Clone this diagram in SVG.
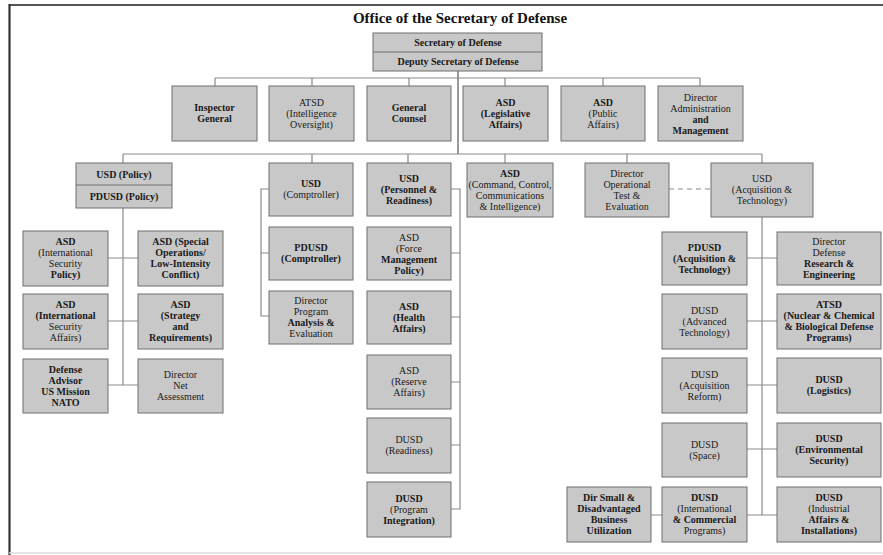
<svg xmlns="http://www.w3.org/2000/svg" width="883" height="555" viewBox="0 0 883 555">
<style>
rect.box{fill:#c8c8c8;stroke:#6e6e6e;stroke-width:1}
text{font-family:"Liberation Serif","Times New Roman",serif;font-size:10px;fill:#1a1a1a;text-anchor:middle}
.b{font-weight:bold}
.title{font-size:15px;fill:#111;font-weight:bold}
.con path{fill:none;stroke:#8a8a8a;stroke-width:1.2}
.con path.trunk{stroke:#555}
.con path.dash{stroke-dasharray:5 4}
</style>
<rect width="883" height="555" fill="#fff"/>
<g id="frame">
<line x1="9" y1="5" x2="883" y2="5" stroke="#555" stroke-width="2"/>
<line x1="9.5" y1="4" x2="9.5" y2="555" stroke="#333" stroke-width="2.2"/>
<line x1="9" y1="553" x2="883" y2="553" stroke="#ddd" stroke-width="1.5"/>
</g>
<text class="title" x="460" y="23">Office of the Secretary of Defense</text>

<g class="con" id="connectors">
<path class="trunk" d="M458 71V154"/>
<path d="M215 78H700M215 78V86M312 78V86M409 78V86M505 78V86M603 78V86M700 78V86"/>
<path d="M123 154H762M123 154V163M312 154V163M408 154V163M505 154V163M627 154V163M762 154V163"/>
<path class="dash" d="M669 189H711"/>
<path d="M123 208V385M108 258H138M108 321H138M108 385H138"/>
<path d="M269 189H261V316H269M261 253H269"/>
<path d="M451 189H460V509H451M451 253H460M451 317H460M451 382H460M451 445H460"/>
<path d="M762 217V515M747 258H777M747 321H777M747 385H777M747 449H777M747 515H777M651 515H662"/>
</g>

<g id="secdef">
<rect class="box" x="373" y="33" width="169" height="38"/>
<line x1="373" y1="52" x2="542" y2="52" stroke="#6e6e6e"/>
<text class="b" x="458" y="46">Secretary of Defense</text>
<text class="b" x="458" y="65">Deputy Secretary of Defense</text>
</g>

<g id="ig"><rect class="box" x="172" y="86" width="85" height="55"/>
<text class="b" x="214.5" y="111">Inspector</text><text class="b" x="214.5" y="122">General</text></g>
<g id="atsd-io"><rect class="box" x="269" y="86" width="85" height="55"/>
<text x="311.5" y="106">ATSD</text><text x="311.5" y="117">(Intelligence</text><text x="311.5" y="128">Oversight)</text></g>
<g id="gc"><rect class="box" x="367" y="86" width="84" height="55"/>
<text class="b" x="409" y="111">General</text><text class="b" x="409" y="122">Counsel</text></g>
<g id="asd-la"><rect class="box" x="463" y="86" width="85" height="55"/>
<text class="b" x="505.5" y="106">ASD</text><text class="b" x="505.5" y="117">(Legislative</text><text class="b" x="505.5" y="128">Affairs)</text></g>
<g id="asd-pa"><rect class="box" x="561" y="86" width="84" height="55"/>
<text class="b" x="603" y="106">ASD</text><text x="603" y="117">(Public</text><text x="603" y="128">Affairs)</text></g>
<g id="dam"><rect class="box" x="658" y="86" width="85" height="55"/>
<text x="700.5" y="100.5">Director</text><text x="700.5" y="111.5">Administration</text><text class="b" x="700.5" y="122.5">and</text><text class="b" x="700.5" y="133.5">Management</text></g>

<g id="usd-policy"><rect class="box" x="76" y="163" width="96" height="45"/>
<line x1="76" y1="185" x2="172" y2="185" stroke="#6e6e6e"/>
<text class="b" x="124" y="177.5">USD (Policy)</text><text class="b" x="124" y="200">PDUSD (Policy)</text></g>
<g id="usd-comp"><rect class="box" x="269" y="163" width="84" height="53"/>
<text class="b" x="311" y="187">USD</text><text x="311" y="198">(Comptroller)</text></g>
<g id="usd-pr"><rect class="box" x="367" y="163" width="84" height="53"/>
<text class="b" x="409" y="181.5">USD</text><text class="b" x="409" y="192.5">(Personnel &amp;</text><text class="b" x="409" y="203.5">Readiness)</text></g>
<g id="asd-c3i"><rect class="box" x="467" y="163" width="86" height="54"/>
<text class="b" x="510" y="177">ASD</text><text x="510" y="188">(Command, Control,</text><text x="510" y="199">Communications</text><text x="510" y="210">&amp; Intelligence)</text></g>
<g id="dir-ote"><rect class="box" x="585" y="163" width="84" height="54"/>
<text x="627" y="177">Director</text><text x="627" y="188">Operational</text><text x="627" y="199">Test &amp;</text><text x="627" y="210">Evaluation</text></g>
<g id="usd-at"><rect class="box" x="711" y="163" width="102" height="54"/>
<text x="762" y="182">USD</text><text x="762" y="193">(Acquisition &amp;</text><text x="762" y="204">Technology)</text></g>

<g id="asd-isp"><rect class="box" x="23" y="231" width="85" height="55"/>
<text class="b" x="65.5" y="245">ASD</text><text x="65.5" y="256">(International</text><text x="65.5" y="267">Security</text><text class="b" x="65.5" y="278">Policy)</text></g>
<g id="asd-solic"><rect class="box" x="138" y="231" width="85" height="55"/>
<text class="b" x="180.5" y="245">ASD (Special</text><text class="b" x="180.5" y="256">Operations/</text><text class="b" x="180.5" y="267">Low-Intensity</text><text class="b" x="180.5" y="278">Conflict)</text></g>
<g id="asd-isa"><rect class="box" x="23" y="294" width="85" height="55"/>
<text class="b" x="65.5" y="308">ASD</text><text class="b" x="65.5" y="319">(International</text><text x="65.5" y="330">Security</text><text x="65.5" y="341">Affairs)</text></g>
<g id="asd-sr"><rect class="box" x="138" y="294" width="85" height="55"/>
<text class="b" x="180.5" y="308">ASD</text><text class="b" x="180.5" y="319">(Strategy</text><text class="b" x="180.5" y="330">and</text><text class="b" x="180.5" y="341">Requirements)</text></g>
<g id="nato"><rect class="box" x="23" y="359" width="85" height="54"/>
<text class="b" x="65.5" y="372.5">Defense</text><text class="b" x="65.5" y="383.5">Advisor</text><text class="b" x="65.5" y="394.5">US Mission</text><text class="b" x="65.5" y="405.5">NATO</text></g>
<g id="dir-na"><rect class="box" x="138" y="359" width="85" height="54"/>
<text x="180.5" y="378">Director</text><text x="180.5" y="389">Net</text><text x="180.5" y="400">Assessment</text></g>

<g id="pdusd-comp"><rect class="box" x="269" y="227" width="84" height="53"/>
<text class="b" x="311" y="251">PDUSD</text><text class="b" x="311" y="262">(Comptroller)</text></g>
<g id="dir-pae"><rect class="box" x="269" y="291" width="84" height="53"/>
<text x="311" y="304">Director</text><text x="311" y="315">Program</text><text class="b" x="311" y="326">Analysis &amp;</text><text x="311" y="337">Evaluation</text></g>

<g id="asd-fmp"><rect class="box" x="367" y="227" width="84" height="53"/>
<text x="409" y="240.5">ASD</text><text x="409" y="251.5">(Force</text><text class="b" x="409" y="262.5">Management</text><text class="b" x="409" y="273.5">Policy)</text></g>
<g id="asd-ha"><rect class="box" x="367" y="291" width="84" height="53"/>
<text class="b" x="409" y="309.5">ASD</text><text class="b" x="409" y="320.5">(Health</text><text class="b" x="409" y="331.5">Affairs)</text></g>
<g id="asd-ra"><rect class="box" x="367" y="355" width="84" height="54"/>
<text x="409" y="374">ASD</text><text x="409" y="385">(Reserve</text><text x="409" y="396">Affairs)</text></g>
<g id="dusd-r"><rect class="box" x="367" y="418" width="84" height="55"/>
<text x="409" y="443">DUSD</text><text x="409" y="454">(Readiness)</text></g>
<g id="dusd-pi"><rect class="box" x="367" y="482" width="84" height="55"/>
<text class="b" x="409" y="501.5">DUSD</text><text x="409" y="512.5">(Program</text><text class="b" x="409" y="523.5">Integration)</text></g>

<g id="pdusd-at"><rect class="box" x="662" y="232" width="85" height="53"/>
<text class="b" x="704.5" y="250.5">PDUSD</text><text class="b" x="704.5" y="261.5">(Acquisition &amp;</text><text class="b" x="704.5" y="272.5">Technology)</text></g>
<g id="dir-ddre"><rect class="box" x="777" y="232" width="104" height="53"/>
<text x="829" y="245">Director</text><text x="829" y="256">Defense</text><text class="b" x="829" y="267">Research &amp;</text><text class="b" x="829" y="278">Engineering</text></g>
<g id="dusd-at"><rect class="box" x="662" y="294" width="85" height="55"/>
<text x="704.5" y="313.5">DUSD</text><text x="704.5" y="324.5">(Advanced</text><text x="704.5" y="335.5">Technology)</text></g>
<g id="atsd-ncb"><rect class="box" x="777" y="294" width="104" height="55"/>
<text class="b" x="829" y="308">ATSD</text><text class="b" x="829" y="319">(Nuclear &amp; Chemical</text><text class="b" x="829" y="330">&amp; Biological Defense</text><text class="b" x="829" y="341">Programs)</text></g>
<g id="dusd-ar"><rect class="box" x="662" y="358" width="85" height="55"/>
<text x="704.5" y="377.5">DUSD</text><text x="704.5" y="388.5">(Acquisition</text><text x="704.5" y="399.5">Reform)</text></g>
<g id="dusd-log"><rect class="box" x="777" y="358" width="104" height="55"/>
<text class="b" x="829" y="383">DUSD</text><text class="b" x="829" y="394">(Logistics)</text></g>
<g id="dusd-space"><rect class="box" x="662" y="423" width="85" height="54"/>
<text x="704.5" y="447.5">DUSD</text><text x="704.5" y="458.5">(Space)</text></g>
<g id="dusd-es"><rect class="box" x="777" y="423" width="104" height="54"/>
<text class="b" x="829" y="442">DUSD</text><text class="b" x="829" y="453">(Environmental</text><text class="b" x="829" y="464">Security)</text></g>
<g id="dusd-icp"><rect class="box" x="662" y="487" width="85" height="55"/>
<text class="b" x="704.5" y="501">DUSD</text><text x="704.5" y="512">(International</text><text class="b" x="704.5" y="523">&amp; Commercial</text><text x="704.5" y="534">Programs)</text></g>
<g id="dusd-iai"><rect class="box" x="777" y="487" width="104" height="55"/>
<text class="b" x="829" y="501">DUSD</text><text x="829" y="512">(Industrial</text><text class="b" x="829" y="523">Affairs &amp;</text><text class="b" x="829" y="534">Installations)</text></g>
<g id="dir-sdbu"><rect class="box" x="567" y="487" width="84" height="55"/>
<text class="b" x="609" y="501">Dir Small &amp;</text><text class="b" x="609" y="512">Disadvantaged</text><text class="b" x="609" y="523">Business</text><text class="b" x="609" y="534">Utilization</text></g>
</svg>
